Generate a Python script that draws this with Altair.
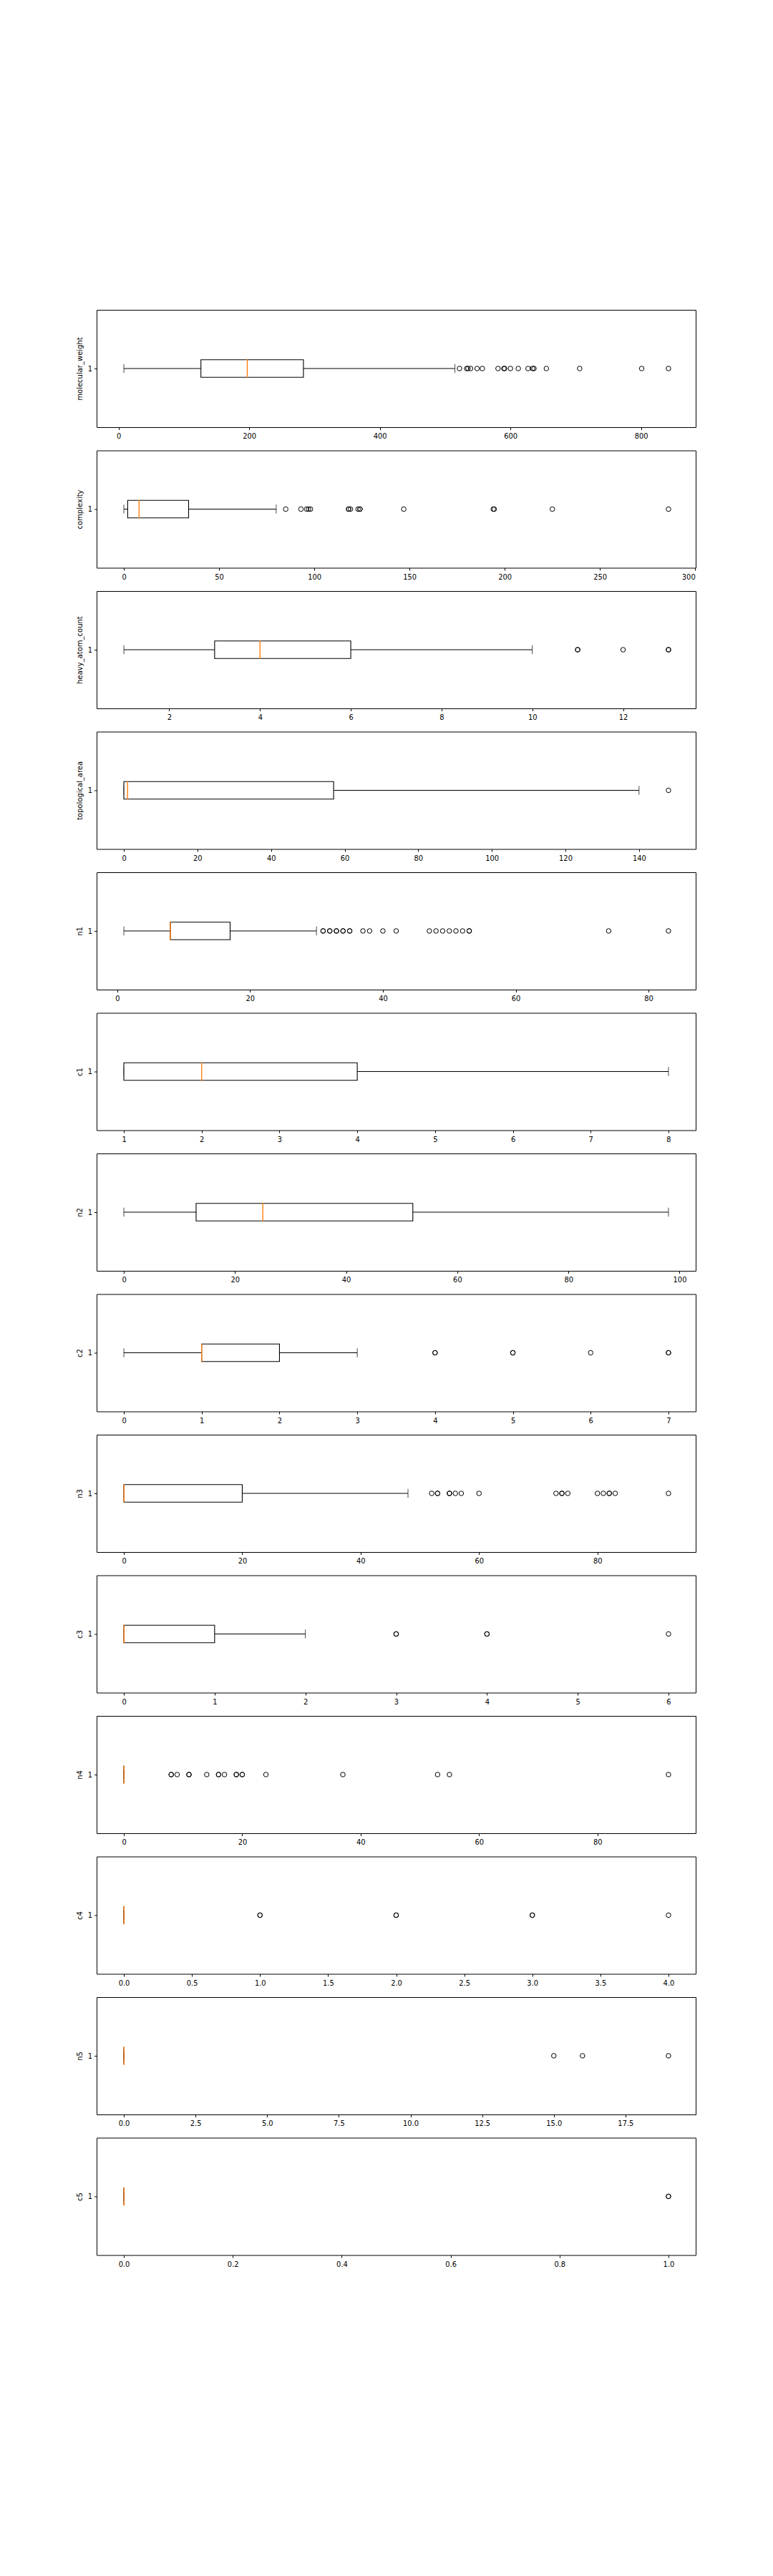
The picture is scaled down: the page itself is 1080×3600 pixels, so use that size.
import altair as alt
import pandas as pd

names = ["molecular_weight", "complexity", "heavy_atom_count", "topological_area",
         "n1", "c1", "n2", "c2", "n3", "c3", "n4", "c4", "n5", "c5"]
whisker_lo = [8, 0, 1, 0, 1, 1, 0, 0, 0, 0, 0, 0, 0, 0]
q1 = [126, 2, 3, 0, 8, 1, 13, 1, 0, 0, 0, 0, 0, 0]
median = [197, 8, 4, 1, 8, 2, 25, 1, 0, 0, 0, 0, 0, 0]
q3 = [283, 34, 6, 57, 17, 4, 52, 2, 20, 1, 0, 0, 0, 0]
whisker_hi = [515, 80, 10, 140, 30, 8, 98, 3, 48, 2, 0, 0, 0, 0]
# repeated values are observations that coincide (drawn as overlapping circles)
outliers = [
    [522, 533, 535, 539, 549, 557, 581, 590, 591, 600, 612, 627, 634, 636, 655, 706, 801, 842],
    [85, 93, 96, 97, 98, 118, 118, 119, 123, 124, 124, 147, 194, 194.5, 225, 286],
    [11, 11, 12, 13, 13],
    [148],
    [31, 31, 32, 32, 33, 33, 34, 34, 35, 35, 37, 38, 40, 42, 47, 48, 49, 50, 51, 52, 53, 53, 74, 83],
    [],
    [],
    [4, 4, 5, 5, 6, 7, 7],
    [52, 53, 53, 55, 55, 56, 57, 60, 73, 74, 74, 75, 80, 81, 82, 82, 83, 92],
    [3, 3, 4, 4, 6],
    [8, 8, 9, 11, 11, 14, 16, 16, 17, 19, 19, 20, 20, 24, 37, 53, 55, 92],
    [1, 1, 2, 2, 3, 3, 4],
    [15, 16, 19],
    [1, 1],
]
x_ticks = [
    [0, 200, 400, 600, 800],
    [0, 50, 100, 150, 200, 250, 300],
    [2, 4, 6, 8, 10, 12],
    [0, 20, 40, 60, 80, 100, 120, 140],
    [0, 20, 40, 60, 80],
    [1, 2, 3, 4, 5, 6, 7, 8],
    [0, 20, 40, 60, 80, 100],
    [0, 1, 2, 3, 4, 5, 6, 7],
    [0, 20, 40, 60, 80],
    [0, 1, 2, 3, 4, 5, 6],
    [0, 20, 40, 60, 80],
    [0.0, 0.5, 1.0, 1.5, 2.0, 2.5, 3.0, 3.5, 4.0],
    [0.0, 2.5, 5.0, 7.5, 10.0, 12.5, 15.0, 17.5],
    [0.0, 0.2, 0.4, 0.6, 0.8, 1.0],
]
x_formats = ["d"] * 11 + [".1f", ".1f", ".1f"]

PANEL_W = 837
PANEL_H = 164
BOX_W = 0.15 * PANEL_H
TICK_FONT = "Liberation Sans Narrow, DejaVu Sans Condensed, DejaVu Sans"


def panel(i):
    vals = [whisker_lo[i], whisker_hi[i]] + outliers[i]
    lo, hi = min(vals), max(vals)
    m = 0.05 * (hi - lo)
    xs = alt.Scale(domain=[lo - m, hi + m], nice=False, zero=False)
    ys = alt.Scale(domain=[0.5, 1.5], nice=False, zero=False)
    stats = pd.DataFrame({"y": [1], "wlo": [whisker_lo[i]], "q1": [q1[i]],
                          "med": [median[i]], "q3": [q3[i]], "whi": [whisker_hi[i]]})
    fl = pd.DataFrame({"x": outliers[i], "y": [1] * len(outliers[i])})

    xaxis = alt.Axis(values=x_ticks[i], format=x_formats[i], title=None)
    yenc = alt.Y("y:Q", scale=ys,
                 axis=alt.Axis(values=[1], format="d", title=names[i]))

    def X(f):
        return alt.X(f"{f}:Q", scale=xs, axis=xaxis)

    base = alt.Chart(stats)
    w1 = base.mark_rule(color="black", strokeWidth=1).encode(x=X("wlo"), x2="q1", y=yenc)
    w2 = base.mark_rule(color="black", strokeWidth=1).encode(x=X("q3"), x2="whi", y=yenc)
    c1 = base.mark_tick(orient="vertical", size=BOX_W / 2, thickness=1, color="black").encode(x=X("wlo"), y=yenc)
    c2 = base.mark_tick(orient="vertical", size=BOX_W / 2, thickness=1, color="black").encode(x=X("whi"), y=yenc)
    box = base.mark_bar(size=BOX_W, fill="white", stroke="black", strokeWidth=1.1).encode(
        x=X("q1"), x2="q3", y=yenc)
    med = base.mark_tick(orient="vertical", size=BOX_W + 1, thickness=1.4, color="#ff7f0e",
                         opacity=1).encode(x=X("med"), y=yenc)
    layers = [w1, w2, c1, c2, box, med]
    if len(outliers[i]):
        pts = alt.Chart(fl).mark_point(shape="circle", filled=False, size=42, color="black",
                                       strokeWidth=1, opacity=1).encode(x=X("x"), y=yenc)
        layers.append(pts)
    return alt.layer(*layers).properties(width=PANEL_W, height=PANEL_H)


chart = alt.vconcat(*[panel(i) for i in range(len(names))], spacing=32.5, bounds="flush").properties(
    padding={"left": 97, "top": 424, "right": 20, "bottom": 20},
    background="white",
).configure_view(stroke="black", strokeWidth=1).configure_axis(
    grid=False, domain=False, tickColor="black", tickSize=3.5, tickWidth=1,
    labelColor="black", labelFont=TICK_FONT, labelFontSize=11, labelPadding=3,
    titleColor="black", titleFont="DejaVu Sans", titleFontSize=10, titleFontWeight="normal",
    titlePadding=6,
)

chart.save("out.html", embed_options={"renderer": "svg", "actions": False})
